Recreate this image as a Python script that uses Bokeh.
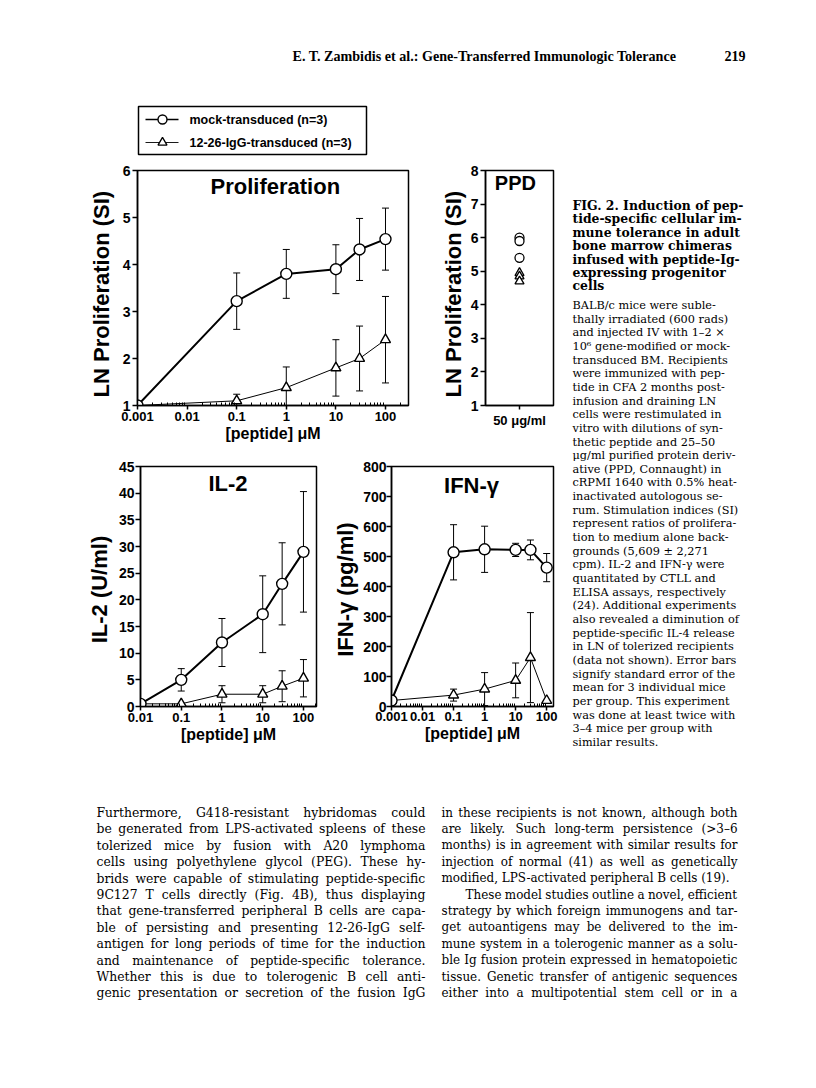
import glob, struct
from bokeh.plotting import figure
from bokeh.models import Range1d, FactorRange, FixedTicker, Whisker, ColumnDataSource, Label, PrintfTickFormatter
from bokeh.layouts import column, row
from bokeh.embed import file_html
from bokeh.resources import INLINE
from bokeh.core.properties import value

SANS = "Liberation Sans"
SERIF = "DejaVu Serif"

# ---------------- data ----------------
series_names = ["mock-transduced  (n=3)", "12-26-IgG-transduced  (n=3)"]

prolif_conc = [0.001, 0.1, 1, 10, 30, 100]
prolif_mock = [1.0, 3.22, 3.80, 3.90, 4.32, 4.54]
prolif_mock_sem = [0.0, 0.60, 0.52, 0.52, 0.66, 0.66]
prolif_igg = [1.0, 1.10, 1.38, 1.80, 2.00, 2.40]
prolif_igg_sem = [0.0, 0.14, 0.44, 0.60, 0.69, 0.92]

ppd_dose = ["50 μg/ml"]
ppd_mock = [6.0, 5.9, 5.4]
ppd_igg = [4.95, 4.85, 4.7]

il2_conc = [0.01, 0.1, 1, 10, 30, 100]
il2_mock = [0.5, 5.0, 12.0, 17.3, 23.0, 29.0]
il2_mock_sem = [0.0, 2.1, 4.5, 7.2, 7.7, 11.3]
il2_igg = [0.5, 0.5, 2.3, 2.3, 3.8, 5.3]
il2_igg_sem = [0.0, 0.0, 1.6, 1.6, 2.9, 3.5]

ifn_conc = [0.001, 0.1, 1, 10, 30, 100]
ifn_mock = [20, 514, 524, 522, 522, 463]
ifn_mock_sem = [0, 92, 77, 22, 33, 47]
ifn_igg = [20, 38, 58, 87, 163, 20]
ifn_igg_sem = [0, 20, 55, 58, 150, 0]

log_tick_values = [0.001, 0.01, 0.1, 1, 10, 100]
log_tick_labels = ["0.001", "0.01", "0.1", "1", "10", "100"]
prolif_yticks = [1, 2, 3, 4, 5, 6]
ppd_yticks = [1, 2, 3, 4, 5, 6, 7, 8]
il2_yticks = [0, 5, 10, 15, 20, 25, 30, 35, 40, 45]
ifn_yticks = [0, 100, 200, 300, 400, 500, 600, 700, 800]

header_text = "E. T. Zambidis et al.: Gene-Transferred Immunologic Tolerance"
page_number = "219"

caption_title = [
    "FIG. 2.  Induction of pep-",
    "tide-specific cellular im-",
    "mune tolerance in adult",
    "bone marrow chimeras",
    "infused with peptide-Ig-",
    "expressing progenitor",
    "cells",
]
caption_body = [
    "BALB/c mice were suble-",
    "thally irradiated (600 rads)",
    "and injected IV with 1–2 ×",
    "10⁶ gene-modified or mock-",
    "transduced BM. Recipients",
    "were immunized with pep-",
    "tide in CFA 2 months post-",
    "infusion and draining LN",
    "cells were restimulated in",
    "vitro with dilutions of syn-",
    "thetic peptide and 25–50",
    "μg/ml purified protein deriv-",
    "ative (PPD, Connaught) in",
    "cRPMI 1640 with 0.5% heat-",
    "inactivated autologous se-",
    "rum. Stimulation indices (SI)",
    "represent ratios of prolifera-",
    "tion to medium alone back-",
    "grounds (5,609 ± 2,271",
    "cpm). IL-2 and IFN-γ were",
    "quantitated by CTLL and",
    "ELISA assays, respectively",
    "(24). Additional experiments",
    "also revealed a diminution of",
    "peptide-specific IL-4 release",
    "in LN of tolerized recipients",
    "(data not shown). Error bars",
    "signify standard error of the",
    "mean for 3 individual mice",
    "per group. This experiment",
    "was done at least twice with",
    "3–4 mice per group with",
    "similar results.",
]
body_left = [
    "Furthermore, G418-resistant hybridomas could",
    "be generated from LPS-activated spleens of these",
    "tolerized mice by fusion with A20 lymphoma",
    "cells using polyethylene glycol (PEG). These hy-",
    "brids were capable of stimulating peptide-specific",
    "9C127 T cells directly (Fig. 4B), thus displaying",
    "that gene-transferred peripheral B cells are capa-",
    "ble of persisting and presenting 12-26-IgG self-",
    "antigen for long periods of time for the induction",
    "and maintenance of peptide-specific tolerance.",
    "Whether this is due to tolerogenic B cell anti-",
    "genic presentation or secretion of the fusion IgG",
]
body_right = [
    "in these recipients is not known, although both",
    "are likely. Such long-term persistence (>3–6",
    "months) is in agreement with similar results for",
    "injection of normal (41) as well as genetically",
    "modified, LPS-activated peripheral B cells (19).",
    "These model studies outline a novel, efficient",
    "strategy by which foreign immunogens and tar-",
    "get autoantigens may be delivered to the im-",
    "mune system in a tolerogenic manner as a solu-",
    "ble Ig fusion protein expressed in hematopoietic",
    "tissue. Genetic transfer of antigenic sequences",
    "either into a multipotential stem cell or in a",
]
right_par_end = {4}
right_indent = {5}


# ---------------- font metrics (for justification) ----------------
def load_metrics(name):
    try:
        paths = glob.glob("/usr/share/fonts/**/" + name, recursive=True)
        data = open(paths[0], "rb").read()
        n = struct.unpack(">H", data[4:6])[0]
        tables = {}
        for i in range(n):
            tag, cs, off, ln = struct.unpack(">4sIII", data[12 + 16 * i:28 + 16 * i])
            tables[tag.decode("latin1")] = off
        upem = struct.unpack(">H", data[tables["head"] + 18:tables["head"] + 20])[0]
        hh = tables["hhea"]
        nh = struct.unpack(">H", data[hh + 34:hh + 36])[0]
        hm = tables["hmtx"]
        adv = [struct.unpack(">H", data[hm + 4 * i:hm + 4 * i + 2])[0] for i in range(nh)]
        cm = tables["cmap"]
        ns = struct.unpack(">H", data[cm + 2:cm + 4])[0]
        sub = None
        for i in range(ns):
            pid, eid, off = struct.unpack(">HHI", data[cm + 4 + 8 * i:cm + 12 + 8 * i])
            if struct.unpack(">H", data[cm + off:cm + off + 2])[0] == 4:
                sub = cm + off
                break
        s2 = struct.unpack(">H", data[sub + 6:sub + 8])[0]
        sc = s2 // 2
        ends = struct.unpack(">%dH" % sc, data[sub + 14:sub + 14 + s2])
        starts = struct.unpack(">%dH" % sc, data[sub + 16 + s2:sub + 16 + 2 * s2])
        deltas = struct.unpack(">%dh" % sc, data[sub + 16 + 2 * s2:sub + 16 + 3 * s2])
        rp = sub + 16 + 3 * s2
        roffs = struct.unpack(">%dH" % sc, data[rp:rp + s2])

        def glyph(c):
            for i in range(sc):
                if ends[i] >= c:
                    if starts[i] > c:
                        return 0
                    if roffs[i] == 0:
                        return (c + deltas[i]) & 0xFFFF
                    a = rp + 2 * i + roffs[i] + 2 * (c - starts[i])
                    g = struct.unpack(">H", data[a:a + 2])[0]
                    return (g + deltas[i]) & 0xFFFF if g else 0
            return 0

        def width(s, size):
            t = 0
            for ch in s:
                g = glyph(ord(ch))
                t += adv[g] if g < nh else adv[-1]
            return t * size / upem
        return width
    except Exception:
        return lambda s, size: len(s) * 0.56 * size


serif_w = load_metrics("DejaVuSerif.ttf")


# ---------------- helpers ----------------
def text_fig(x0, x1, y0, y1):
    p = figure(width=x1 - x0, height=y1 - y0, x_range=Range1d(x0, x1), y_range=Range1d(y1, y0),
               x_axis_type=None, y_axis_type=None, output_backend="svg", toolbar_location=None,
               min_border=0)
    p.grid.visible = False
    p.outline_line_color = None
    p.background_fill_color = "white"
    p.border_fill_color = "white"
    return p


def put_text(p, xs, ys, texts, size, font=SERIF, bold=False, align="left"):
    src = ColumnDataSource(dict(x=xs, y=ys, t=texts))
    p.text(x="x", y="y", text="t", source=src, text_font=value(font), text_font_size=value(size),
           text_font_style="bold" if bold else "normal", text_align=align,
           text_baseline="middle", text_color="black")


def fit_size(lines, x0, x1, base, no_just=(), indent=(), ind=0, min_gap=0.28):
    s = base
    for i, line in enumerate(lines):
        words = line.split(" ")
        avail = x1 - x0 - (ind if i in indent else 0)
        nat = sum(serif_w(w, 1.0) for w in words) + (len(words) - 1) * min_gap
        s = min(s, avail / nat)
    return s


def justified(p, lines, x0, x1, y0, dy, size, no_just=(), indent=(), ind=0):
    xs, ys, ts = [], [], []
    for i, line in enumerate(lines):
        y = y0 + i * dy
        left = x0 + (ind if i in indent else 0)
        words = line.split(" ")
        if i in no_just or len(words) < 2:
            xs.append(left); ys.append(y); ts.append(line)
            continue
        ws = [serif_w(w, size) for w in words]
        gap = (x1 - left - sum(ws)) / (len(words) - 1)
        x = left
        for w, ww in zip(words, ws):
            xs.append(x); ys.append(y); ts.append(w)
            x += ww + gap
    put_text(p, xs, ys, ts, "%.2fpx" % size)


def chart(w, h, bl, br, bt, bb, xr, yr, xtype="log"):
    p = figure(width=w, height=h, x_range=xr, y_range=yr, x_axis_type=xtype,
               output_backend="svg", toolbar_location=None,
               min_border_left=bl, min_border_right=br, min_border_top=bt, min_border_bottom=bb)
    p.grid.visible = False
    p.outline_line_color = "black"
    p.outline_line_width = 1.5
    p.outline_line_alpha = 1.0
    p.background_fill_color = "white"
    p.border_fill_color = "white"
    return p


def style_y(p, ticks, label, tick_size, label_size, label_standoff, major_standoff):
    ax = p.yaxis[0]
    ax.ticker = FixedTicker(ticks=ticks)
    ax.axis_label = label
    ax.axis_label_text_font = SANS
    ax.axis_label_text_font_style = "bold"
    ax.axis_label_text_font_size = label_size
    ax.axis_label_standoff = label_standoff
    ax.axis_label_text_color = "black"
    ax.major_label_text_font = SANS
    ax.major_label_text_font_style = "bold"
    ax.major_label_text_font_size = tick_size
    ax.major_label_text_color = "black"
    ax.major_label_standoff = major_standoff
    ax.major_tick_out = 5
    ax.major_tick_in = 0
    ax.minor_tick_line_color = None
    ax.axis_line_width = 1.5
    ax.major_tick_line_width = 1.5


def style_x(p, label, tick_size, label_size, label_standoff, major_standoff, log=True, lo=-3, hi=3):
    ax = p.xaxis[0]
    if log:
        minors = [k * 10.0 ** e for e in range(lo, hi) for k in range(2, 10)]
        ax.ticker = FixedTicker(ticks=log_tick_values, minor_ticks=minors)
        ax.formatter = PrintfTickFormatter(format="%g")
        ax.major_label_overrides = {v: t for v, t in zip(log_tick_values, log_tick_labels)}
        ax.minor_tick_in = 3
        ax.minor_tick_out = 0
        ax.minor_tick_line_width = 1
    else:
        ax.minor_tick_line_color = None
    ax.axis_label = label
    ax.axis_label_text_font = SANS
    ax.axis_label_text_font_style = "bold"
    ax.axis_label_text_font_size = label_size
    ax.axis_label_standoff = label_standoff
    ax.axis_label_text_color = "black"
    ax.major_label_text_font = SANS
    ax.major_label_text_font_style = "bold"
    ax.major_label_text_font_size = tick_size
    ax.major_label_text_color = "black"
    ax.major_label_standoff = major_standoff
    ax.major_tick_out = 4
    ax.major_tick_in = 0
    ax.axis_line_width = 1.5
    ax.major_tick_line_width = 1.5


def errorbars(p, xs, ys, sems):
    keep = [(x, y, s) for x, y, s in zip(xs, ys, sems) if s > 0]
    src = ColumnDataSource(dict(x=[k[0] for k in keep], lo=[k[1] - k[2] for k in keep],
                                hi=[k[1] + k[2] for k in keep]))
    w = Whisker(base="x", lower="lo", upper="hi", source=src, line_color="black", line_width=1)
    w.upper_head.size = 7
    w.lower_head.size = 7
    w.upper_head.line_width = 1
    w.lower_head.line_width = 1
    p.add_layout(w)


def add_series(p, xs, ys, sems, marker, lw, size):
    errorbars(p, xs, ys, sems)
    p.line(xs, ys, line_color="black", line_width=lw)
    p.scatter(xs, ys, marker=marker, size=size, fill_color="white", line_color="black", line_width=1.4)


def title_label(p, x, y, text, size):
    p.add_layout(Label(x=x, y=y, text=text, text_font=SANS, text_font_style="bold",
                       text_font_size=size, text_align="center", text_baseline="middle",
                       text_color="black"))


# ---------------- top: header + legend ----------------
top = text_fig(0, 812, 0, 160)
put_text(top, [292], [55], [header_text], "14.1px", font="Liberation Serif", bold=True)
put_text(top, [724], [55], [page_number], "14.1px", font="Liberation Serif", bold=True)
top.quad(left=[138], right=[366], top=[106], bottom=[154], fill_color=None,
         line_color="black", line_width=1.5)
top.line([145, 178], [119, 119], line_color="black", line_width=1.6)
top.line([145, 178], [142, 142], line_color="black", line_width=0.9)
top.scatter([162], [119], marker="circle", size=9, fill_color="white", line_color="black", line_width=1.4)
top.scatter([162], [142], marker="triangle", size=9, fill_color="white", line_color="black", line_width=1.3)
put_text(top, [189, 189], [119, 142], series_names, "12.5px", font=SANS, bold=True)

# ---------------- proliferation ----------------
pro = chart(420, 288, 137, 12, 9, 43, Range1d(0.001, 291), Range1d(1, 6))
style_y(pro, prolif_yticks, "LN  Proliferation  (SI)", "14px", "22px", 6, 2)
style_x(pro, "[peptide] μM", "13px", "16px", 1, 2)
add_series(pro, prolif_conc, prolif_igg, prolif_igg_sem, "triangle", 1.0, 10)
add_series(pro, prolif_conc, prolif_mock, prolif_mock_sem, "circle", 2.0, 11)
title_label(pro, 0.6, 5.66, "Proliferation", "22px")

# ---------------- PPD ----------------
ppd = chart(140, 288, 65, 7, 10, 40, FactorRange(factors=ppd_dose), Range1d(1, 8), xtype="auto")
style_y(ppd, ppd_yticks, "LN  Proliferation  (SI)", "14px", "22px", 2, 2)
style_x(ppd, "", "13px", "15px", 0, 3, log=False)
ppd.scatter(ppd_dose * len(ppd_igg), ppd_igg, marker="triangle", size=9, fill_color="white",
            line_color="black", line_width=1.3)
ppd.scatter(ppd_dose * len(ppd_mock), ppd_mock, marker="circle", size=9, fill_color="white",
            line_color="black", line_width=1.3)
title_label(ppd, 0.44, 7.62, "PPD", "20px")

# ---------------- IL-2 ----------------
il2 = chart(330, 332, 140, 14, 18, 74, Range1d(0.01, 209), Range1d(0, 45))
style_y(il2, il2_yticks, "IL-2  (U/ml)", "14px", "22px", 4, 1)
style_x(il2, "[peptide] μM", "13px", "16px", 1, 2, lo=-2)
add_series(il2, il2_conc, il2_igg, il2_igg_sem, "triangle", 1.0, 10)
add_series(il2, il2_conc, il2_mock, il2_mock_sem, "circle", 2.0, 11)
title_label(il2, 1.4, 41.8, "IL-2", "22px")

# ---------------- IFN-gamma ----------------
ifn = chart(230, 332, 57, 7, 18, 74, Range1d(0.001, 166), Range1d(0, 800))
style_y(ifn, ifn_yticks, "IFN-γ  (pg/ml)", "14px", "22px", 2, 0)
style_x(ifn, "[peptide] μM", "13px", "16px", 1, 1)
add_series(ifn, ifn_conc, ifn_igg, ifn_igg_sem, "triangle", 1.0, 10)
add_series(ifn, ifn_conc, ifn_mock, ifn_mock_sem, "circle", 2.0, 11)
title_label(ifn, 0.38, 737, "IFN-γ", "22px")

# ---------------- caption ----------------
cap = text_fig(560, 812, 160, 780)
put_text(cap, [572] * len(caption_title), [205 + 13.4 * i for i in range(len(caption_title))],
         caption_title, "12.4px", bold=True)
put_text(cap, [572] * len(caption_body), [305 + 13.65 * i for i in range(len(caption_body))],
         caption_body, "11.3px")

# ---------------- body text ----------------
body = text_fig(0, 812, 780, 1080)
left_size = fit_size(body_left, 96, 425, 12.4)
right_size = fit_size(body_right, 441, 737, 12.4, no_just=right_par_end, indent=right_indent, ind=24)
justified(body, body_left, 96, 425, 812, 16.4, left_size)
justified(body, body_right, 441, 737, 812, 16.4, right_size, no_just=right_par_end,
          indent=right_indent, ind=24)

page = column(
    top,
    row(column(row(pro, ppd, spacing=0), row(il2, ifn, spacing=0), spacing=0), cap, spacing=0),
    body,
    spacing=0,
)

open("out.html", "w").write(file_html(page, INLINE))
